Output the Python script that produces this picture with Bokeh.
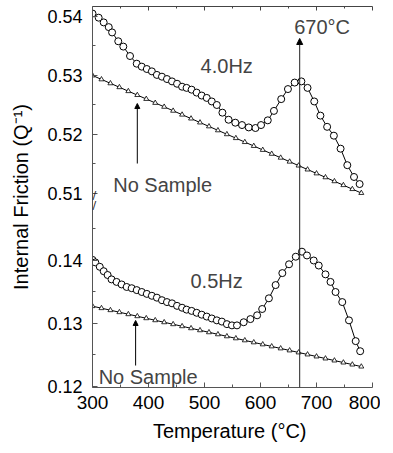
from bokeh.plotting import figure
from bokeh.models import Range1d, FixedTicker, LinearAxis, Label, Arrow, NormalHead
from bokeh.embed import file_html
from bokeh.resources import INLINE

# ---- data ----
T_40 = [300, 311, 320, 329, 335, 346, 355, 367, 379, 388, 397, 406, 415, 424, 433, 442,
        451, 460, 468, 477, 486, 495, 504, 513, 522, 532, 543, 555, 567, 579, 591, 601,
        613, 624, 637, 649, 661, 673, 684, 696, 707, 719, 731, 743, 755, 767, 777]
Q_40 = [0.5405, 0.5398, 0.5390, 0.5382, 0.5373, 0.5358, 0.5349, 0.5333, 0.5320, 0.5315,
        0.5311, 0.5307, 0.5301, 0.5298, 0.5294, 0.5290, 0.5286, 0.5281, 0.5279, 0.5276,
        0.5271, 0.5266, 0.5262, 0.5256, 0.5250, 0.5237, 0.5225, 0.5220, 0.5216, 0.5212,
        0.5211, 0.5216, 0.5224, 0.5240, 0.5260, 0.5277, 0.5288, 0.5290, 0.5279, 0.5256,
        0.5232, 0.5213, 0.5198, 0.5176, 0.5148, 0.5128, 0.5116]

T_05 = [300, 305, 313, 320, 327, 334, 343, 352, 361, 370, 379, 388, 397, 406, 415, 424,
        433, 442, 451, 460, 468, 477, 486, 495, 504, 513, 522, 531, 540, 549, 558, 570,
        582, 594, 603, 615, 627, 639, 651, 663, 674, 683, 695, 704, 716, 725, 734, 746,
        758, 770, 778]
Q_05 = [0.1401, 0.1397, 0.1390, 0.1383, 0.1377, 0.1370, 0.1366, 0.1362, 0.1358, 0.1356,
        0.1353, 0.1350, 0.1347, 0.1344, 0.1341, 0.1337, 0.1334, 0.1332, 0.1328, 0.1325,
        0.1322, 0.1320, 0.1317, 0.1314, 0.1311, 0.1308, 0.1305, 0.1303, 0.1299, 0.1297,
        0.1297, 0.1302, 0.1307, 0.1313, 0.1323, 0.1340, 0.1361, 0.1380, 0.1394, 0.1406,
        0.1414, 0.1408, 0.1400, 0.1392, 0.1378, 0.1366, 0.1350, 0.1334, 0.1305, 0.1272,
        0.1256]

T_ns = [300, 316, 332, 348, 364, 380, 396, 412, 428, 444, 460, 476, 492, 508, 524, 540,
        556, 572, 588, 604, 620, 636, 652, 668, 684, 700, 716, 732, 748, 764, 780]
Q_ns_hi = [0.53000, 0.52934, 0.52867, 0.52801, 0.52734, 0.52668, 0.52602, 0.52535,
           0.52469, 0.52402, 0.52336, 0.52270, 0.52203, 0.52137, 0.52070, 0.52004,
           0.51938, 0.51871, 0.51805, 0.51738, 0.51672, 0.51606, 0.51539, 0.51473,
           0.51406, 0.51340, 0.51274, 0.51207, 0.51141, 0.51074, 0.51008]
Q_ns_lo = [0.13275, 0.13243, 0.13211, 0.13179, 0.13147, 0.13115, 0.13083, 0.13051,
           0.13019, 0.12988, 0.12956, 0.12924, 0.12892, 0.12860, 0.12828, 0.12796,
           0.12764, 0.12732, 0.12700, 0.12668, 0.12636, 0.12604, 0.12572, 0.12540,
           0.12508, 0.12476, 0.12444, 0.12412, 0.12380, 0.12348, 0.12316]

x_ticks = [300, 400, 500, 600, 700, 800]
x_minor = [350, 450, 550, 650, 750]
y_ticks_top = [0.51, 0.52, 0.53, 0.54]
y_minor_top = [0.515, 0.525, 0.535]
y_ticks_bot = [0.12, 0.13, 0.14]
y_minor_bot = [0.125, 0.135, 0.145]
peak_T = 670

# ---- broken axis: upper panel values are placed above the lower panel ----
BREAK_BASE = 0.150635   # where 0.51 of the upper panel sits in lower-panel units
BREAK_SCALE = 0.93651   # relative scale of the upper panel


def top(v):
    return BREAK_BASE + (v - 0.51) * BREAK_SCALE


FONT = "Liberation Sans"

p = figure(frame_width=280, frame_height=381,
           x_range=Range1d(300, 800), y_range=Range1d(0.119841, 0.180317),
           output_backend="svg", toolbar_location=None,
           min_border_left=92, min_border_right=8, min_border_top=6, min_border_bottom=4,
           x_axis_label="Temperature  (°C)", y_axis_label="Internal Friction (Q⁻¹)")
p.grid.visible = False
p.outline_line_color = None

xa = p.xaxis[0]
xa.ticker = FixedTicker(ticks=x_ticks, minor_ticks=x_minor)
ya = p.yaxis[0]
ya.ticker = FixedTicker(ticks=[top(v) for v in y_ticks_top] + y_ticks_bot,
                        minor_ticks=[top(v) for v in y_minor_top] + y_minor_bot)
ya.major_label_overrides = {**{top(v): f"{v:.2f}" for v in y_ticks_top},
                            **{v: f"{v:.2f}" for v in y_ticks_bot}}

for ax in (xa, ya):
    ax.axis_line_color = "#555555"
    ax.major_tick_line_color = "#555555"
    ax.minor_tick_line_color = "#555555"
    ax.major_tick_in = 5
    ax.major_tick_out = 0
    ax.minor_tick_in = 3
    ax.minor_tick_out = 0
    ax.major_label_text_font = FONT
    ax.major_label_text_color = "black"
    ax.axis_label_text_font = FONT
    ax.axis_label_text_font_style = "normal"
    ax.axis_label_text_color = "black"
    ax.axis_label_text_font_size = "20px"

xa.major_label_text_font_size = "19px"
xa.major_label_standoff = 8
xa.axis_label_standoff = 8
ya.major_label_text_font_size = "18px"
ya.major_label_standoff = 10
ya.axis_label_standoff = 12

top_ax = LinearAxis(ticker=FixedTicker(ticks=x_ticks, minor_ticks=x_minor),
                    major_label_overrides={t: "" for t in x_ticks},
                    major_label_standoff=0,
                    major_tick_in=4, major_tick_out=0, minor_tick_in=2, minor_tick_out=0,
                    axis_line_color="#444444", major_tick_line_color="#444444",
                    minor_tick_line_color="#444444")
p.add_layout(top_ax, "above")

# no-sample baselines
p.line(T_ns, [top(v) for v in Q_ns_hi], line_color="black", line_width=1)
p.scatter(T_ns, [top(v) for v in Q_ns_hi], marker="triangle", size=5,
          fill_color="white", line_color="black", line_width=0.8)
p.line(T_ns, Q_ns_lo, line_color="black", line_width=1)
p.scatter(T_ns, Q_ns_lo, marker="triangle", size=5,
          fill_color="white", line_color="black", line_width=0.8)

# measured curves
p.line(T_40, [top(v) for v in Q_40], line_color="black", line_width=1)
p.scatter(T_40, [top(v) for v in Q_40], marker="circle", size=7,
          fill_color="white", line_color="black", line_width=1)
p.line(T_05, Q_05, line_color="black", line_width=1)
p.scatter(T_05, Q_05, marker="circle", size=7,
          fill_color="white", line_color="black", line_width=1)

# peak marker
p.add_layout(Arrow(end=NormalHead(size=6, fill_color="black", line_color="black"),
                   x_start=peak_T, y_start=0.119841, x_end=peak_T, y_end=0.17524,
                   line_color="#222222", line_width=1))
p.add_layout(Label(x=peak_T + 40, y=top(0.5383), text="670°C", text_font=FONT,
                   text_font_size="20px", text_align="center", text_baseline="middle"))

# arrows to no-sample lines
p.add_layout(Arrow(end=NormalHead(size=5, fill_color="black", line_color="black"),
                   x_start=380, y_start=top(0.51508), x_end=380, y_end=top(0.52525),
                   line_color="black", line_width=1))
p.add_layout(Arrow(end=NormalHead(size=5, fill_color="black", line_color="black"),
                   x_start=377, y_start=0.12333, x_end=377, y_end=0.13048,
                   line_color="black", line_width=1))

labels = [
    (493, top(0.53153), "4.0Hz"),
    (475, 0.13675, "0.5Hz"),
    (337, top(0.51136), "No Sample"),
    (311, 0.12143, "No Sample"),
]
for x, y, t in labels:
    p.add_layout(Label(x=x, y=y, text=t, text_font=FONT, text_font_size="20px",
                       text_align="left", text_baseline="middle"))

# axis break marks (x in screen px from the frame's left edge, y in data units)
for dy in (0.15030, 0.14880):
    p.add_layout(Label(x=0, x_units="screen", y=dy, text="/", text_font="DejaVu Sans",
                       text_font_size="11px", text_color="#222222",
                       text_align="left", text_baseline="middle",
                       background_fill_color=None))

open("out.html", "w").write(file_html(p, INLINE))
